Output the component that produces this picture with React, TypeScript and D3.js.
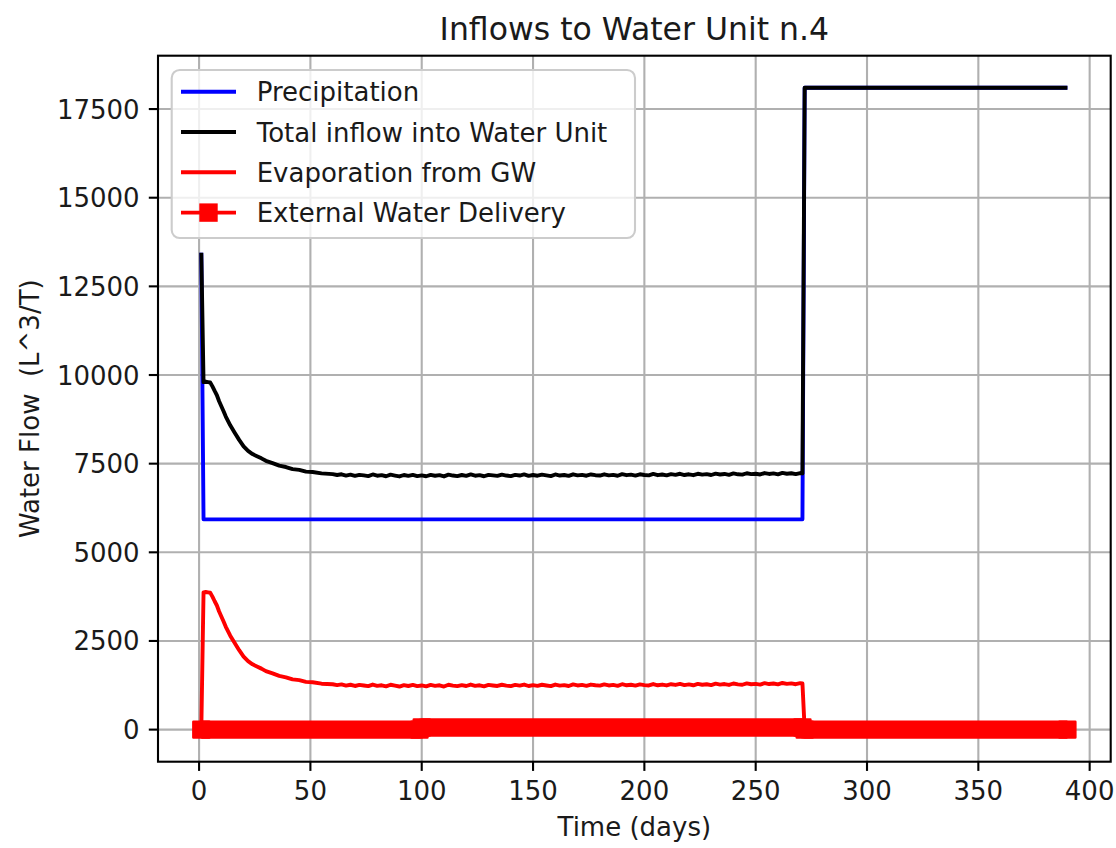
import { useEffect, useRef } from "react";
import * as d3 from "d3";

// Precipitation (blue)
const precipDays = [1, 2, 271, 272, 390];
const precipValues = [13450, 5930, 5930, 18100, 18100];

// sampling days shared by the evaporation and total inflow series
const earlyDays = [1, 2, 3, 4, 5, 6, 7, 8, 9, 10, 11, 12, 14, 16, 18, 20, 22, 24, 26, 28, 30, 33, 36, 39, 42, 45, 48, 51, 55];
const plateauDays = d3.range(60, 271, 2); // 60, 62, ... 270
const lateDays = [271, 272, 390];
const flowDays = [...earlyDays, ...plateauDays, ...lateDays];

// Evaporation from GW (red, thin)
const evapEarly = [
  0, 3870, 3880, 3870, 3860, 3750, 3620, 3500, 3330, 3190, 3050, 2900, 2650, 2440, 2240, 2060, 1930, 1840, 1780,
  1720, 1650, 1585, 1515, 1475, 1415, 1395, 1345, 1335, 1295,
];
const evapPlateau = [
  1280, 1255, 1275, 1240, 1265, 1230, 1260, 1245, 1225, 1270, 1235, 1250, 1220, 1265, 1240, 1215, 1255, 1230, 1260, 1225,
  1245, 1220, 1260, 1235, 1250, 1215, 1265, 1240, 1225, 1255, 1230, 1270, 1235, 1250, 1220, 1260, 1245, 1230, 1265, 1240,
  1225, 1260, 1240, 1270, 1230, 1255, 1235, 1265, 1245, 1225, 1270, 1240, 1255, 1230, 1275, 1245, 1260, 1235, 1270, 1250,
  1240, 1275, 1245, 1260, 1235, 1280, 1250, 1265, 1240, 1275, 1255, 1245, 1285, 1250, 1270, 1245, 1280, 1260, 1290, 1255,
  1275, 1250, 1290, 1265, 1280, 1255, 1295, 1270, 1285, 1260, 1300, 1275, 1265, 1305, 1280, 1290, 1270, 1310, 1285, 1300,
  1275, 1315, 1290, 1305, 1280, 1310,
];
const evapLate = [1300, 0, 0];
const evapValues = [...evapEarly, ...evapPlateau, ...evapLate];

// Total inflow into Water Unit (black)
const totalEarly = [
  13450, 9800, 9810, 9800, 9790, 9680, 9550, 9430, 9260, 9120, 8980, 8830, 8580, 8370, 8170, 7990, 7860, 7770,
  7710, 7650, 7580, 7515, 7445, 7405, 7345, 7325, 7275, 7265, 7225,
];
const totalPlateau = [
  7205, 7180, 7200, 7165, 7190, 7155, 7185, 7170, 7150, 7195, 7160, 7175, 7145, 7190, 7165, 7140, 7180, 7155, 7185, 7150,
  7170, 7145, 7185, 7160, 7175, 7140, 7190, 7165, 7150, 7180, 7155, 7195, 7160, 7175, 7145, 7185, 7170, 7155, 7190, 7165,
  7150, 7185, 7165, 7195, 7155, 7180, 7160, 7190, 7170, 7150, 7195, 7165, 7180, 7155, 7200, 7170, 7185, 7160, 7195, 7175,
  7165, 7200, 7170, 7185, 7160, 7205, 7175, 7190, 7165, 7200, 7180, 7170, 7210, 7175, 7195, 7170, 7205, 7185, 7215, 7180,
  7200, 7175, 7215, 7190, 7205, 7180, 7220, 7195, 7210, 7185, 7225, 7200, 7190, 7230, 7205, 7215, 7195, 7235, 7210, 7225,
  7200, 7240, 7215, 7230, 7205, 7235,
];
const totalLate = [7225, 18100, 18100];
const totalValues = [...totalEarly, ...totalPlateau, ...totalLate];

// External Water Delivery (red, square markers)
const deliveryDays = [1, 99, 100, 271, 272, 390];
const deliveryValues = [0, 0, 60, 60, 0, 0];

const xTicks = [0, 50, 100, 150, 200, 250, 300, 350, 400];
const yTicks = [0, 2500, 5000, 7500, 10000, 12500, 15000, 17500];

const legendLabels = ["Precipitation", "Total inflow into Water Unit", "Evaporation from GW", "External Water Delivery"];

const W = 1116;
const H = 848;
const FONT = "DejaVu Sans, sans-serif";

export default function App() {
  const ref = useRef<SVGSVGElement | null>(null);

  useEffect(() => {
    const left = 158, right = 1110.7, top = 55.7, bottom = 761.7;
    const svg = d3.select(ref.current);
    svg.selectAll("*").remove();

    const allDays = [...precipDays, ...flowDays, ...deliveryDays];
    const allValues = [...precipValues, ...evapValues, ...totalValues, ...deliveryValues];
    const [x0, x1] = d3.extent(allDays) as [number, number];
    const [y0, y1] = d3.extent(allValues) as [number, number];
    const xPad = (x1 - x0) * 0.05;
    const yPad = (y1 - y0) * 0.05;

    const xScale = d3.scaleLinear().domain([x0 - xPad, x1 + xPad]).range([left, right]);
    const yScale = d3.scaleLinear().domain([y0 - yPad, y1 + yPad]).range([bottom, top]);

    svg.append("rect").attr("width", W).attr("height", H).attr("fill", "white");

    svg.append("defs").append("clipPath").attr("id", "plotclip")
      .append("rect").attr("x", left).attr("y", top).attr("width", right - left).attr("height", bottom - top);

    // grid
    const grid = svg.append("g").attr("stroke", "#b0b0b0").attr("stroke-width", 2.1);
    xTicks.forEach(t => {
      grid.append("line").attr("x1", xScale(t)).attr("x2", xScale(t)).attr("y1", top).attr("y2", bottom);
    });
    yTicks.forEach(t => {
      grid.append("line").attr("x1", left).attr("x2", right).attr("y1", yScale(t)).attr("y2", yScale(t));
    });

    const line = d3.line<[number, number]>()
      .x(d => xScale(d[0]))
      .y(d => yScale(d[1]));

    const plot = svg.append("g").attr("clip-path", "url(#plotclip)");

    const series: [number[], number[], string][] = [
      [precipDays, precipValues, "#0000ff"],
      [flowDays, totalValues, "#000000"],
      [flowDays, evapValues, "#ff0000"],
    ];
    series.forEach(([days, vals, color]) => {
      plot.append("path")
        .attr("d", line(days.map((d, i) => [d, vals[i]] as [number, number])))
        .attr("fill", "none")
        .attr("stroke", color)
        .attr("stroke-width", 3.9)
        .attr("stroke-linejoin", "round");
    });

    // external water delivery: dense square markers form a thick band
    const delivery = deliveryDays.map((d, i) => [d, deliveryValues[i]] as [number, number]);
    plot.append("path")
      .attr("d", line(delivery))
      .attr("fill", "none")
      .attr("stroke", "#ff0000")
      .attr("stroke-width", 18.4)
      .attr("stroke-linejoin", "round");
    plot.selectAll(".mk").data(delivery).enter().append("rect")
      .attr("x", d => xScale(d[0]) - 7.9)
      .attr("y", d => yScale(d[1]) - 7.9)
      .attr("width", 15.8)
      .attr("height", 15.8)
      .attr("fill", "#ff0000")
      .attr("stroke", "#ff0000")
      .attr("stroke-width", 2.6)
      .attr("stroke-linejoin", "round");

    // spines
    svg.append("rect")
      .attr("x", left).attr("y", top).attr("width", right - left).attr("height", bottom - top)
      .attr("fill", "none").attr("stroke", "#000").attr("stroke-width", 2.1);

    // ticks
    const axes = svg.append("g").attr("font-family", FONT).attr("font-size", 26).attr("fill", "#1a1a1a");
    xTicks.forEach(t => {
      axes.append("line").attr("x1", xScale(t)).attr("x2", xScale(t))
        .attr("y1", bottom).attr("y2", bottom + 9.2).attr("stroke", "#000").attr("stroke-width", 2.1);
      axes.append("text").attr("x", xScale(t)).attr("y", 800)
        .attr("text-anchor", "middle").text(String(t));
    });
    yTicks.forEach(t => {
      axes.append("line").attr("x1", left - 9.2).attr("x2", left)
        .attr("y1", yScale(t)).attr("y2", yScale(t)).attr("stroke", "#000").attr("stroke-width", 2.1);
      axes.append("text").attr("x", left - 18.4).attr("y", yScale(t) + 9.5)
        .attr("text-anchor", "end").text(String(t));
    });

    // axis labels and title
    axes.append("text").attr("x", (left + right) / 2).attr("y", 836)
      .attr("text-anchor", "middle").text("Time (days)");
    axes.append("text")
      .attr("transform", `translate(39,${(top + bottom) / 2}) rotate(-90)`)
      .attr("text-anchor", "middle")
      .style("white-space", "pre")
      .text("Water Flow  (L^3/T)");
    axes.append("text").attr("x", (left + right) / 2).attr("y", 40)
      .attr("text-anchor", "middle").attr("font-size", 31.5).text("Inflows to Water Unit n.4");

    // legend
    const lg = svg.append("g").attr("font-family", FONT).attr("font-size", 26);
    lg.append("rect")
      .attr("x", 171.7).attr("y", 70).attr("width", 463.3).attr("height", 168).attr("rx", 8)
      .attr("fill", "white").attr("fill-opacity", 0.8)
      .attr("stroke", "#cccccc").attr("stroke-width", 2.1);
    const legendColors = ["#0000ff", "#000000", "#ff0000", "#ff0000"];
    legendLabels.forEach((label, i) => {
      const cy = 91.7 + i * 40.3;
      lg.append("line").attr("x1", 181).attr("x2", 236).attr("y1", cy).attr("y2", cy)
        .attr("stroke", legendColors[i]).attr("stroke-width", 3.9);
      if (i === 3) {
        lg.append("rect").attr("x", 208.5 - 7.9).attr("y", cy - 7.9).attr("width", 15.8).attr("height", 15.8)
          .attr("fill", "#ff0000").attr("stroke", "#ff0000").attr("stroke-width", 2.6);
      }
      lg.append("text").attr("x", 256.7).attr("y", cy + 9.5).attr("fill", "#1a1a1a").text(label);
    });
  }, []);

  return (
    <svg
      ref={ref}
      width={W}
      height={H}
      style={{ position: "absolute", left: 0, top: 0 }}
    />
  );
}
